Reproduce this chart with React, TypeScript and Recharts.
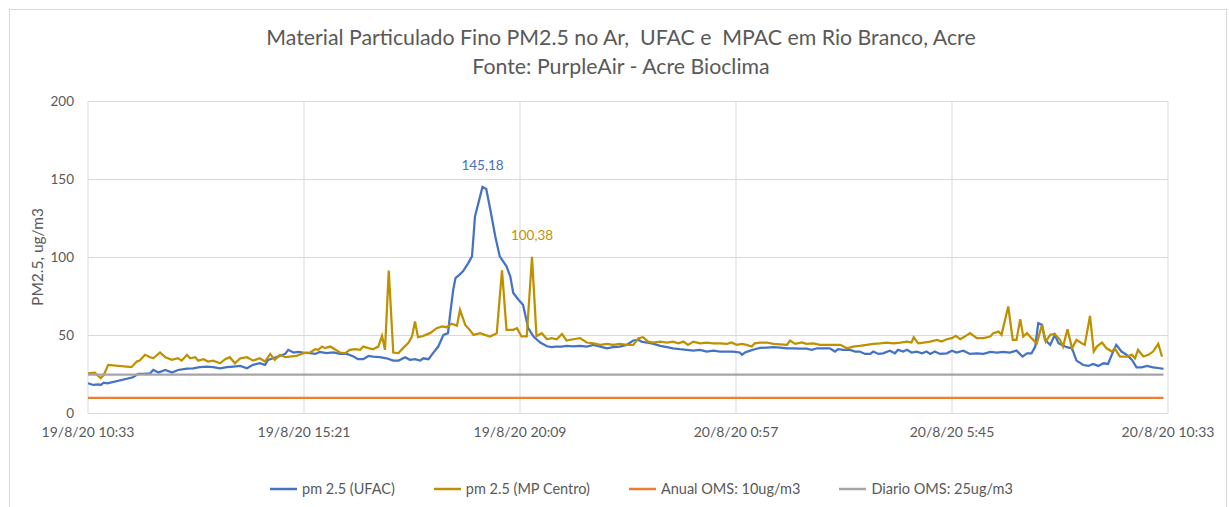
import React from "react";
import { LineChart, Line, XAxis, YAxis, CartesianGrid } from "recharts";

// Time in minutes since 19/8/20 10:33
const xTicks = [0, 288, 576, 864, 1152, 1440];
const xTickLabels = ["19/8/20 10:33", "19/8/20 15:21", "19/8/20 20:09", "20/8/20 0:57", "20/8/20 5:45", "20/8/20 10:33"];
const yTicks = [0, 50, 100, 150, 200];

const ufacTimes = [0,7,14,17,21,26,60,67,74,83,87,94,103,112,120,132,140,149,158,167,176,185,194,203,212,220,229,236,240,247,256,263,267,274,280,287,296,303,309,318,327,336,345,354,360,367,374,380,389,398,407,414,423,429,436,443,447,454,460,467,474,480,483,487,490,495,500,507,512,516,520,526,531,536,543,549,558,563,567,574,580,587,594,603,612,618,624,632,638,647,656,665,674,683,692,700,709,718,727,734,738,745,754,763,772,780,789,798,807,816,825,834,843,852,860,869,872,876,883,889,896,905,914,923,932,940,949,958,965,972,980,989,996,1000,1007,1016,1023,1029,1036,1043,1047,1054,1060,1069,1076,1080,1087,1092,1098,1105,1112,1118,1123,1129,1136,1145,1152,1158,1167,1176,1185,1194,1203,1212,1220,1229,1238,1246,1252,1258,1263,1267,1272,1276,1283,1289,1294,1298,1305,1312,1318,1327,1334,1340,1347,1354,1360,1365,1371,1378,1385,1392,1398,1405,1412,1420,1429,1434];
const ufacValues = [19.4,18.3,18.7,18.3,19.8,19.4,23.2,25.4,25.4,25.8,27.9,26.2,27.9,26.2,27.9,28.8,29.0,29.7,30.1,29.7,29.0,29.7,30.1,30.5,29.0,31.2,32.2,31.2,34.4,35.4,36.9,38.2,40.8,39.1,39.5,39.1,38.7,38.2,39.5,38.7,39.1,38.2,38.2,36.5,34.8,34.8,36.9,36.5,36.1,35.4,33.9,33.9,36.1,34.4,34.8,33.9,35.4,34.8,38.7,42.9,50.4,51.5,64.3,79.3,86.8,88.9,91.1,96.4,100.7,126.4,133.9,145.18,143.9,131.7,113.6,100.7,94.3,87.9,77.2,72.9,69.7,54.7,49.3,45.5,43.1,42.5,42.9,42.9,43.4,43.1,43.4,42.9,44.0,42.9,41.8,42.5,42.9,44.0,46.8,47.2,46.1,45.5,44.6,43.3,42.5,41.8,41.2,40.8,40.3,40.8,39.7,40.3,39.7,39.7,39.7,39.1,37.6,39.1,40.3,41.2,42.0,42.3,42.5,42.3,41.8,41.8,41.6,41.6,40.8,41.8,41.8,41.8,39.7,41.2,40.8,40.8,39.7,39.7,38.2,38.2,39.7,38.2,38.6,40.3,38.6,40.8,39.7,40.8,39.1,39.7,38.6,39.7,38.2,39.7,38.2,38.6,40.3,39.1,40.3,38.2,38.6,38.2,39.5,39.1,39.5,39.1,40.3,36.5,38.6,38.6,42.9,57.9,56.8,47.2,44.0,50.4,45.0,44.0,42.5,41.8,33.9,31.1,30.5,31.8,30.5,32.2,31.8,37.6,44.0,39.7,37.6,34.4,29.6,29.6,30.5,29.6,29.0,28.6];

const mpTimes = [0,9,17,21,27,58,65,69,76,83,87,96,103,112,120,125,132,136,143,147,154,160,167,176,183,189,196,203,212,220,229,236,243,249,256,263,269,278,287,296,303,307,312,316,323,329,336,343,349,356,363,367,374,380,387,392,396,401,407,414,420,427,432,436,440,447,456,465,472,478,485,492,496,503,509,514,523,529,536,545,552,558,567,572,578,585,592,598,605,612,618,625,632,638,647,656,665,674,683,692,700,709,718,727,734,740,747,754,763,772,780,787,794,800,807,816,825,834,843,852,858,865,872,878,885,889,896,905,914,932,936,943,952,958,967,976,1003,1012,1020,1029,1038,1047,1056,1065,1074,1083,1092,1098,1101,1107,1114,1123,1132,1138,1145,1152,1157,1163,1169,1176,1185,1194,1203,1207,1214,1218,1227,1233,1238,1243,1247,1252,1258,1265,1272,1277,1283,1289,1296,1300,1306,1312,1318,1325,1329,1336,1341,1345,1352,1358,1365,1369,1376,1385,1392,1396,1400,1407,1414,1420,1427,1432];
const mpValues = [25.8,26.2,22.6,24.7,31.2,29.7,33.3,33.9,37.6,36.1,35.4,39.1,36.1,34.4,35.4,33.9,37.6,35.4,36.1,33.9,34.8,33.3,33.9,32.2,34.8,36.1,32.2,35.4,36.1,33.9,35.4,33.3,38.2,34.4,37.6,36.1,36.5,36.9,38.7,39.1,41.2,40.8,42.9,41.9,42.9,41.2,39.1,38.7,40.8,41.2,40.8,42.9,41.9,41.2,42.9,49.8,40.8,91.7,39.1,38.7,41.9,45.1,49.4,59.0,48.9,49.8,51.5,54.7,55.8,55.3,57.5,56.2,66.5,56.8,53.6,50.4,51.5,50.4,49.4,51.5,91.7,53.6,53.6,54.7,49.4,49.4,100.38,49.6,51.5,47.6,48.3,47.6,51.0,46.8,47.6,48.3,45.5,45.0,44.0,44.6,44.0,44.6,44.0,44.0,48.3,48.9,46.1,45.5,46.1,45.5,46.1,45.0,46.1,44.0,46.1,45.0,45.5,45.0,45.0,44.6,45.5,44.0,44.6,44.0,42.9,45.0,45.5,45.5,44.6,44.0,46.8,44.6,45.5,44.6,45.0,44.0,44.0,41.8,42.9,43.3,44.0,44.6,45.0,45.5,45.0,45.5,46.1,45.5,48.9,45.0,45.5,46.1,47.2,46.1,47.6,48.3,49.8,47.6,49.3,51.5,48.3,48.3,49.3,51.5,52.5,50.4,68.6,47.2,47.2,60.5,49.3,51.5,48.3,45.0,56.8,46.1,50.4,51.0,47.2,42.9,54.0,41.8,47.2,45.0,44.0,62.6,39.7,42.9,45.5,41.8,39.7,41.8,36.5,36.5,37.6,35.4,40.8,36.5,37.6,39.7,44.6,36.5];

const limitTimes = [0, 1434];
const annualLimit = [10, 10];
const dailyLimit = [25, 25];

const ufacData = ufacTimes.map((t, i) => ({ t, v: ufacValues[i] }));
const mpData = mpTimes.map((t, i) => ({ t, v: mpValues[i] }));
const annualData = limitTimes.map((t, i) => ({ t, v: annualLimit[i] }));
const dailyData = limitTimes.map((t, i) => ({ t, v: dailyLimit[i] }));

const ufacPeak = Math.max(...ufacValues);
const mpPeak = Math.max(...mpValues);

const BLUE = "#4472C4";
const GOLD = "#BF9000";
const ORANGE = "#ED7D31";
const GRAY = "#A5A5A5";
const TEXT = "#595959";
const FONT = "Lato, 'Open Sans', sans-serif";

const fmt = (v: number) => v.toFixed(2).replace(".", ",");

const peakLabel = (peak: number, color: string) => (props: any) => {
  const { x, y, value } = props;
  if (value !== peak) return null;
  return (
    <text x={x} y={y - 17} textAnchor="middle" fill={color} fontSize={13.5} fontFamily={FONT}>
      {fmt(value)}
    </text>
  );
};

const legendItems = [
  { name: "pm 2.5 (UFAC)", color: BLUE },
  { name: "pm 2.5 (MP Centro)", color: GOLD },
  { name: "Anual OMS: 10ug/m3", color: ORANGE },
  { name: "Diario OMS: 25ug/m3", color: GRAY },
];

export default function App() {
  return (
    <div style={{ position: "fixed", left: 0, top: 0, width: 1229, height: 507, overflow: "hidden", background: "#fff" }}>
      <div style={{ position: "absolute", left: 9, top: 9, width: 1216, height: 520, border: "1px solid #D9D9D9" }} />
      <div style={{ position: "absolute", left: 0, top: 23, width: 1242, textAlign: "center", fontFamily: FONT, fontSize: 21.3, color: TEXT, lineHeight: "29px", whiteSpace: "pre" }}>
        <div>{"Material Particulado Fino PM2.5 no Ar,  UFAC e  MPAC em Rio Branco, Acre"}</div>
        <div>Fonte: PurpleAir - Acre Bioclima</div>
      </div>
      <div style={{ position: "absolute", left: 0, top: 0 }}>
        <LineChart width={1229} height={507} margin={{ top: 101.5, right: 61, bottom: 63.5, left: 0 }}>
          <CartesianGrid stroke="#D9D9D9" strokeWidth={1} />
          <XAxis
            dataKey="t"
            type="number"
            domain={[0, 1440]}
            ticks={xTicks}
            tickFormatter={(v: number) => xTickLabels[xTicks.indexOf(v)]}
            height={30}
            axisLine={{ stroke: "#D9D9D9" }}
            tickLine={false}
            tickMargin={8}
            tick={{ fill: TEXT, fontSize: 14, fontFamily: FONT }}
            interval={0}
            allowDuplicatedCategory={false}
          />
          <YAxis
            type="number"
            domain={[0, 200]}
            ticks={yTicks}
            width={88}
            axisLine={false}
            tickLine={false}
            tickMargin={8}
            tick={{ fill: TEXT, fontSize: 13.5, fontFamily: FONT }}
            label={() => (
              <text x={39} y={257} transform="rotate(-90 39 257)" textAnchor="middle" dominantBaseline="middle" fill={TEXT} fontSize={15.5} fontFamily={FONT}>
                PM2.5, ug/m3
              </text>
            )}
          />
          <Line data={ufacData} dataKey="v" name="pm 2.5 (UFAC)" stroke={BLUE} strokeWidth={2.25} dot={false} isAnimationActive={false} label={peakLabel(ufacPeak, BLUE)} />
          <Line data={mpData} dataKey="v" name="pm 2.5 (MP Centro)" stroke={GOLD} strokeWidth={2.25} dot={false} isAnimationActive={false} label={peakLabel(mpPeak, GOLD)} />
          <Line data={annualData} dataKey="v" name="Anual OMS: 10ug/m3" stroke={ORANGE} strokeWidth={2.25} dot={false} isAnimationActive={false} />
          <Line data={dailyData} dataKey="v" name="Diario OMS: 25ug/m3" stroke={GRAY} strokeWidth={2.25} dot={false} isAnimationActive={false} />
        </LineChart>
      </div>
      <div style={{ position: "absolute", left: 0, top: 479, width: 1229, display: "flex", justifyContent: "center", gap: 39, fontFamily: FONT, fontSize: 14.5, color: TEXT, paddingLeft: 54, boxSizing: "border-box", lineHeight: "20px" }}>
        {legendItems.map((it) => (
          <div key={it.name} style={{ display: "flex", alignItems: "center" }}>
            <svg width={27} height={10} style={{ marginRight: 5 }}>
              <line x1={0} y1={5} x2={27} y2={5} stroke={it.color} strokeWidth={2.5} />
            </svg>
            <span>{it.name}</span>
          </div>
        ))}
      </div>
    </div>
  );
}
